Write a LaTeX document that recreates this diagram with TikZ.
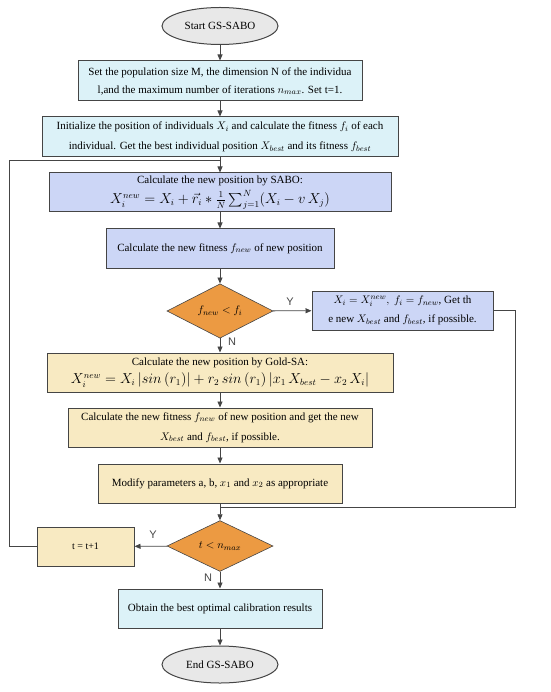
\documentclass[tikz,border=0pt]{standalone}
\usepackage{amsmath,amssymb}
\usepackage{fontspec}
\setmainfont{Liberation Serif}
\newfontfamily\yn{Liberation Sans}
\usepackage{tikz}
\usetikzlibrary{shapes.geometric}
\usetikzlibrary{arrows.meta}
\usepackage{xcolor}
\definecolor{boxcyan}{HTML}{DCF2F8}
\definecolor{boxblue}{HTML}{CCD6F6}
\definecolor{boxyellow}{HTML}{F8EAC2}
\definecolor{boxorange}{HTML}{EC9A42}
\definecolor{boxgray}{HTML}{E8E8E8}
\definecolor{edgegray}{HTML}{454545}

\begin{document}
\begin{tikzpicture}[x=1pt,y=-1pt,
	box/.style={draw=edgegray,line width=1pt,rectangle,align=center,inner sep=1pt,font=\fontsize{11}{18}\selectfont},
	term/.style={draw=edgegray,line width=1pt,ellipse,fill=boxgray,minimum width=116pt,minimum height=37pt,inner sep=0pt,font=\fontsize{11}{13}\selectfont},
	cond/.style={draw=edgegray,line width=0.6pt,diamond,fill=boxorange,minimum width=106pt,minimum height=50pt,inner sep=0pt,font=\fontsize{11}{13}\selectfont},
	yn/.style={font=\yn\fontsize{11}{13}\selectfont,text=edgegray,inner sep=0pt},
	arr/.style={draw=edgegray,line width=0.8pt,-{Triangle[length=6pt,width=5pt]}},
	lin/.style={draw=edgegray,line width=0.8pt}]
	\useasboundingbox (0,0) rectangle (550,692);
	\node[term] at (220,26) (start) {Start GS-SABO};
	\node[box,fill=boxcyan,minimum width=284pt,minimum height=40pt] at (220,81) (setup)
	{Set the population size M, the dimension N of the individua\\ l,and the maximum number of iterations $n_{max}$. Set t=1.};
	\node[box,fill=boxcyan,minimum width=356pt,minimum height=40pt,font=\fontsize{11}{20}\selectfont] at (220,137) (init)
	{Initialize the position of individuals $X_i$ and calculate the fitness $f_i$ of each\\ individual. Get the best individual position $X_{best}$ and its fitness $f_{best}$};
	\node[box,fill=boxblue,minimum width=342pt,minimum height=39pt,inner sep=0pt,font=\fontsize{11}{13}\selectfont] at (220,192.5) (sabo)
	{Calculate the new position by SABO:\\[3pt] \fontsize{13.5}{14}\selectfont $X_i^{new} = X_i + \vec{r}_i \ast \frac{1}{N}\sum_{j=1}^{N}(X_i - v\,X_j)$};
	\node[box,fill=boxblue,minimum width=228pt,minimum height=39pt] at (220,248.5) (fitsabo)
	{Calculate the new fitness $f_{new}$ of new position};
	\node[cond] at (220,311) (cmpf) {$f_{new} < f_i$};
	\node[box,fill=boxblue,minimum width=181pt,minimum height=39pt,inner sep=0pt,font=\fontsize{11}{18.5}\selectfont] at (402.5,310.5) (update)
	{$X_i = X_i^{new},\ f_i = f_{new}$, Get th\\ e new $X_{best}$ and $f_{best}$, if possible.};
	\node[box,fill=boxyellow,minimum width=346pt,minimum height=39pt,inner sep=0pt,font=\fontsize{11}{13}\selectfont] at (220,372.5) (gold)
	{Calculate the new position by Gold-SA:\\[4pt] \fontsize{13.5}{14}\selectfont $X_i^{new} = X_i\,|sin\,(r_1)| + r_2\,sin\,(r_1)\,|x_1\,X_{best} - x_2\,X_i|$};
	\node[box,fill=boxyellow,minimum width=304pt,minimum height=39pt,font=\fontsize{11}{20}\selectfont] at (220,427.5) (fitgold)
	{Calculate the new fitness $f_{new}$ of new position and get the new\\ $X_{best}$ and $f_{best}$, if possible.};
	\node[box,fill=boxyellow,minimum width=244pt,minimum height=39pt] at (220,483.5) (modify)
	{Modify parameters a, b, $x_1$ and $x_2$ as appropriate};
	\node[cond] at (220,546) (cmpt) {$t < n_{max}$};
	\node[box,fill=boxyellow,minimum width=97pt,minimum height=39pt,font=\fontsize{10}{12}\selectfont] at (85.5,546.5) (incr) {t = t+1};
	\node[box,fill=boxcyan,minimum width=204pt,minimum height=39pt] at (220,608.5) (result)
	{Obtain the best optimal calibration results};
	\node[term] at (220,664.5) (stop) {End GS-SABO};
	
	\node[yn] at (290,302) (yes1) {Y};
	\node[yn] at (232,342) (no1) {N};
	\node[yn] at (153,535) (yes2) {Y};
	\node[yn] at (208,578) (no2) {N};
	\coordinate (loopl) at (220,160);
	\coordinate (loopr) at (220,507);
	
	\draw[arr] (start) -- (setup);
	\draw[arr] (setup) -- (init);
	\draw[arr] (init) -- (sabo);
	\draw[arr] (sabo) -- (fitsabo);
	\draw[arr] (fitsabo) -- (cmpf);
	\draw[arr] (cmpf) -- (update);
	\draw[arr] (cmpf) -- (gold);
	\draw[arr] (gold) -- (fitgold);
	\draw[arr] (fitgold) -- (modify);
	\draw[arr] (modify) -- (cmpt);
	\draw[arr] (cmpt) -- (incr);
	\draw[arr] (cmpt) -- (result);
	\draw[arr] (result) -- (stop);
	\draw[lin] (update.east) -- ++(22,0) |- (loopr);
	\draw[lin] (incr.west) -- ++(-27.5,0) |- (loopl);
\end{tikzpicture}
\end{document}
